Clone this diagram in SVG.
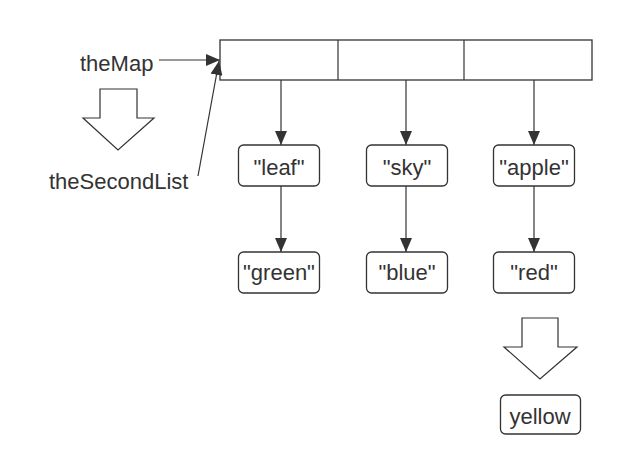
<svg xmlns="http://www.w3.org/2000/svg" width="632" height="476" viewBox="0 0 632 476">
<style>
.box{fill:#fff;stroke:#333;stroke-width:1.3}
.t{font-family:"Liberation Sans",Arial,sans-serif;font-size:22px;fill:#333;text-anchor:middle}
.tl{font-family:"Liberation Sans",Arial,sans-serif;font-size:22px;fill:#333}
.c{stroke:#333;stroke-width:1.2;fill:none}
.blk{fill:#fff;stroke:#333;stroke-width:1.2}
</style>
<defs>
<marker id="ah" viewBox="0 0 14 12" refX="14" refY="6" markerWidth="14" markerHeight="12" markerUnits="userSpaceOnUse" orient="auto">
<path d="M0,0 L14,6 L0,12 Z" fill="#333"/>
</marker>
</defs>
<rect width="632" height="476" fill="#fff"/>
<g id="theMapLabel"><text class="tl" x="80" y="71">theMap</text></g>
<g id="theSecondListLabel"><text class="tl" x="49" y="189">theSecondList</text></g>
<g id="blockArrowLeft"><path class="blk" d="M100,89 L137,89 L137,118 L154,118 L118,150 L83,118 L100,118 Z"/></g>
<g id="map">
<rect class="box" x="220" y="40" width="372" height="40"/>
<line class="c" x1="338" y1="40" x2="338" y2="80"/>
<line class="c" x1="464" y1="40" x2="464" y2="80"/>
</g>
<g id="leaf"><rect class="box" x="238.5" y="145" width="81" height="41" rx="5"/><text class="t" x="279" y="175">"leaf"</text></g>
<g id="sky"><rect class="box" x="366.5" y="145" width="81" height="41" rx="5"/><text class="t" x="407" y="175">"sky"</text></g>
<g id="apple"><rect class="box" x="493.5" y="145" width="81" height="41" rx="5"/><text class="t" x="534" y="175">"apple"</text></g>
<g id="green"><rect class="box" x="238.5" y="252" width="81" height="41" rx="5"/><text class="t" x="279" y="280">"green"</text></g>
<g id="blue"><rect class="box" x="366.5" y="252" width="81" height="41" rx="5"/><text class="t" x="407" y="280">"blue"</text></g>
<g id="red"><rect class="box" x="493.5" y="252" width="81" height="41" rx="5"/><text class="t" x="534" y="280">"red"</text></g>
<g id="blockArrowRight"><path class="blk" d="M522,318 L558,318 L558,347 L577,347 L540,379 L504,347 L522,347 Z"/></g>
<g id="yellow"><rect class="box" x="500.5" y="395" width="80" height="39" rx="5"/><text class="t" x="540" y="424">yellow</text></g>
<g id="connectors">
<line class="c" x1="159" y1="60" x2="220" y2="60" marker-end="url(#ah)"/>
<line class="c" x1="198" y1="176" x2="219" y2="61" marker-end="url(#ah)"/>
<line class="c" x1="281" y1="80" x2="281" y2="145" marker-end="url(#ah)"/>
<line class="c" x1="406" y1="80" x2="406" y2="145" marker-end="url(#ah)"/>
<line class="c" x1="534" y1="80" x2="534" y2="145" marker-end="url(#ah)"/>
<line class="c" x1="281" y1="186" x2="281" y2="252" marker-end="url(#ah)"/>
<line class="c" x1="406" y1="186" x2="406" y2="252" marker-end="url(#ah)"/>
<line class="c" x1="534" y1="186" x2="534" y2="252" marker-end="url(#ah)"/>
</g>
</svg>
